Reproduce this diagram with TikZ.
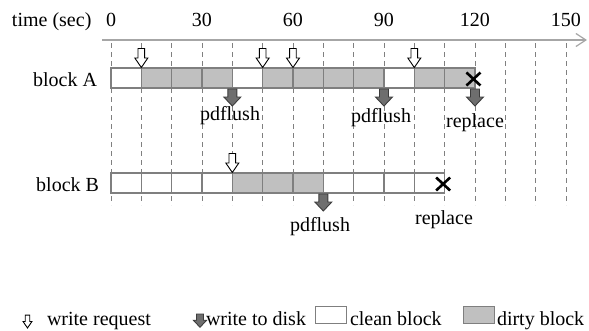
\documentclass[tikz,border=0pt]{standalone}
\usepackage{fontspec}
\setmainfont{Liberation Serif}
\usetikzlibrary{arrows.meta}

\definecolor{dirty}{HTML}{C0C0C0}
\definecolor{cellline}{HTML}{7F7F7F}
\definecolor{gridline}{HTML}{808080}
\definecolor{axisline}{HTML}{A6A6A6}
\definecolor{diskfill}{HTML}{6E6E6E}
\definecolor{diskline}{HTML}{3C3C3C}

\begin{document}
\begin{tikzpicture}[x=1pt,y=-1pt,
  lbl/.style={font=\fontsize{20}{23}\selectfont, inner sep=0pt, outer sep=0pt},
  cell/.style={draw=cellline, line width=1.3pt, minimum width=30.33pt,
    minimum height=20pt, inner sep=0pt, outer sep=0pt},
  cleancell/.style={cell, fill=white},
  dirtycell/.style={cell, fill=dirty},
  gridrule/.style={draw=gridline, line width=0.9pt, dash pattern=on 5pt off 4pt},
  evict/.style={line width=2.6pt, black},
  % hollow arrow: write request (tip at the origin)
  wreq/.pic={\draw[black, fill=white, line width=0.9pt]
    (0,0) -- (-6.5,-9.5) -- (-3.3,-9.5) -- (-3.3,-19) -- (3.3,-19)
    -- (3.3,-9.5) -- (6.5,-9.5) -- cycle;},
  % dark arrow: write to disk (top of shaft at the origin)
  wdisk/.pic={\draw[diskline, fill=diskfill, line width=0.9pt]
    (-4.5,0) -- (4.5,0) -- (4.5,8) -- (8.5,8) -- (0,17) -- (-8.5,8)
    -- (-4.5,8) -- cycle;},
  % cross marking a replaced block
  xmark/.pic={\draw[evict] (-7,-6.5) -- (7,6.5) (-7,6.5) -- (7,-6.5);},
]
\useasboundingbox (0,0) rectangle (589,330);

% time axis
\coordinate (axs) at (102,40);
\coordinate (axe) at (587,40);
\draw[axisline, line width=1.2pt,
  -{Straight Barb[length=10pt,width=13pt,line width=1.2pt]}] (axs) -- (axe);
\node[lbl, anchor=base west] (tlabel) at (12,26) {time (sec)};
\foreach \t in {0,30,...,150}
  \node[lbl, anchor=base] (tick\t) at ({111+3.033*\t},26) {\t};

% dashed time grid
\foreach \t in {0,10,...,150} {
  \coordinate (gt\t) at ({111+3.033*\t},43);
  \coordinate (gb\t) at ({111+3.033*\t},205);
  \draw[gridrule] (gt\t) -- (gb\t);
}

% block A
\node[lbl, anchor=base east] (nameA) at (97,86) {block A};
\foreach \i/\s in {0/cleancell,1/dirtycell,2/dirtycell,3/dirtycell,4/cleancell,
  5/dirtycell,6/dirtycell,7/dirtycell,8/dirtycell,9/cleancell,10/dirtycell,11/dirtycell}
  \node[\s] (A\i) at ({126.17+30.33*\i},78) {};

% block B
\node[lbl, anchor=base east] (nameB) at (99,191) {block B};
\foreach \i/\s in {0/cleancell,1/cleancell,2/cleancell,3/cleancell,4/dirtycell,
  5/dirtycell,6/dirtycell,7/cleancell,8/cleancell,9/cleancell,10/cleancell}
  \node[\s] (B\i) at ({126.17+30.33*\i},183) {};

% write requests
\foreach \c in {A1,A5,A6,A10,B4}
  \pic at ([yshift=0.5pt]\c.north west) {wreq};

% writes to disk
\foreach \c in {A3,A8,A11,B6}
  \pic at ([yshift=-1pt]\c.south east) {wdisk};

% replaced blocks
\pic at ([xshift=-1.5pt,yshift=-1pt]A11.east) {xmark};
\pic at ([xshift=-1.5pt,yshift=-1pt]B10.east) {xmark};

% event labels
\node[lbl] (flA1) at (230,116) {pdflush};
\node[lbl] (flA2) at (381,118) {pdflush};
\node[lbl] (repA) at (475,123) {replace};
\node[lbl] (flB) at (320,227) {pdflush};
\node[lbl] (repB) at (444,220) {replace};

% legend
\pic[scale=0.68] at (27.5,328) {wreq};
\node[lbl, anchor=base west] (lgreq) at (47,325) {write request};
\pic[scale=0.78] at (200,314) {wdisk};
\node[lbl, anchor=base west] (lgdisk) at (206,325) {write to disk};
\node[cleancell, minimum width=31.5pt, minimum height=16.5pt] (lgclean) at (331,315) {};
\node[lbl, anchor=base west] (lgcleant) at (350,325) {clean block};
\node[dirtycell, minimum width=31.5pt, minimum height=16.5pt] (lgdirty) at (479,315) {};
\node[lbl, anchor=base west] (lgdirtyt) at (497,325) {dirty block};
\end{tikzpicture}
\end{document}
